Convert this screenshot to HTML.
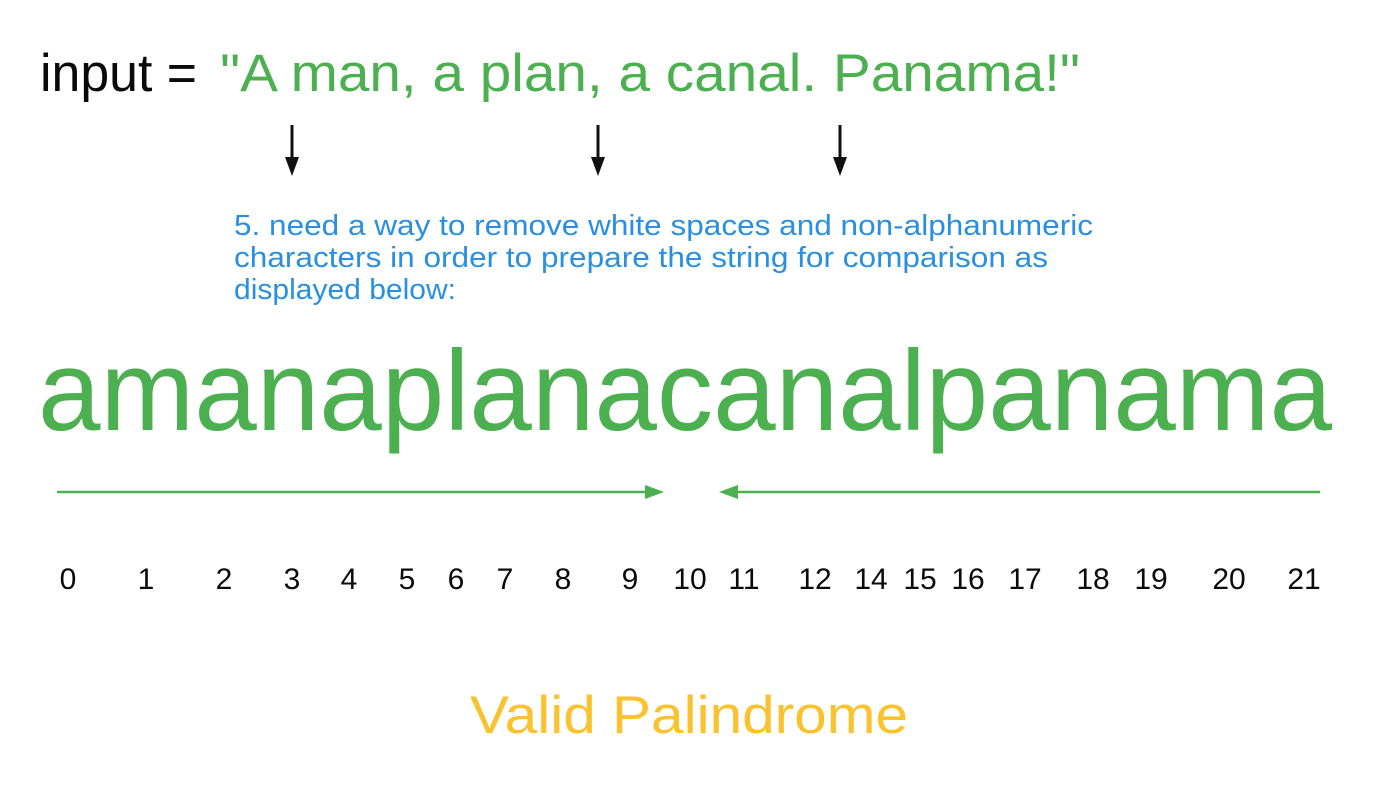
<!DOCTYPE html>
<html><head><meta charset="utf-8"><style>
html,body{margin:0;padding:0;background:#fff;}
svg{display:block;}
text{font-family:"Liberation Sans",Arial,sans-serif;}
</style></head><body>
<svg width="1400" height="795" viewBox="0 0 1400 795" xmlns="http://www.w3.org/2000/svg">
<text x="40" y="91" font-size="53" fill="#0a0a0a" textLength="157" lengthAdjust="spacingAndGlyphs">input =</text>
<text x="220" y="91" font-size="53" fill="#4caf50" textLength="860" lengthAdjust="spacingAndGlyphs">"A man, a plan, a canal. Panama!"</text>
<g stroke="#111" stroke-width="3">
<line x1="292" y1="125" x2="292" y2="160"/><line x1="598" y1="125" x2="598" y2="160"/><line x1="840" y1="125" x2="840" y2="160"/>
</g>
<g fill="#111">
<polygon points="285,157 299,157 292,176"/><polygon points="591,157 605,157 598,176"/><polygon points="833,157 847,157 840,176"/>
</g>
<g font-size="29" fill="#2a8fe0">
<text x="234" y="235" textLength="859" lengthAdjust="spacingAndGlyphs">5. need a way to remove white spaces and non-alphanumeric</text>
<text x="234" y="267" textLength="814" lengthAdjust="spacingAndGlyphs">characters in order to prepare the string for comparison as</text>
<text x="234" y="299" textLength="222" lengthAdjust="spacingAndGlyphs">displayed below:</text>
</g>
<text x="38" y="430" font-size="114" fill="#4caf50" textLength="1294" lengthAdjust="spacingAndGlyphs">amanaplanacanalpanama</text>
<g stroke="#4caf50" stroke-width="2.5">
<line x1="57" y1="492" x2="650" y2="492"/><line x1="733" y1="492" x2="1320" y2="492"/>
</g>
<g fill="#4caf50">
<polygon points="645,485 664,492 645,499"/><polygon points="738,485 719,492 738,499"/>
</g>
<g font-size="30" fill="#0a0a0a" text-anchor="middle">
<text x="68" y="589">0</text><text x="146" y="589">1</text><text x="224" y="589">2</text><text x="292" y="589">3</text><text x="349" y="589">4</text><text x="407" y="589">5</text><text x="456" y="589">6</text><text x="505" y="589">7</text><text x="563" y="589">8</text><text x="630" y="589">9</text><text x="690" y="589">10</text><text x="744" y="589">11</text><text x="815" y="589">12</text><text x="871" y="589">14</text><text x="920" y="589">15</text><text x="968" y="589">16</text><text x="1025" y="589">17</text><text x="1093" y="589">18</text><text x="1151" y="589">19</text><text x="1229" y="589">20</text><text x="1304" y="589">21</text>
</g>
<text x="470" y="733" font-size="53" fill="#f9c22e" textLength="438" lengthAdjust="spacingAndGlyphs">Valid Palindrome</text>
</svg>
</body></html>
